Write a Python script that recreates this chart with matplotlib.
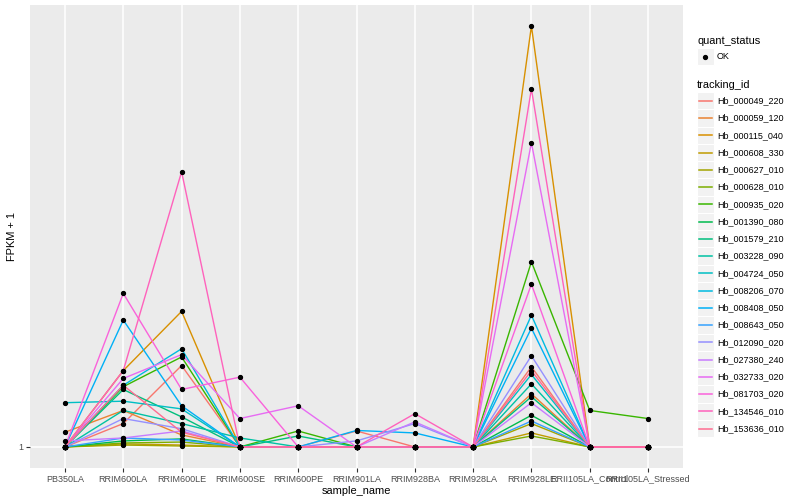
import matplotlib
matplotlib.use("Agg")
import matplotlib.pyplot as plt
from matplotlib.patches import Rectangle
import numpy as np

plt.rcParams['font.family'] = ['Liberation Sans', 'DejaVu Sans']

samples = ["PB350LA", "RRIM600LA", "RRIM600LE", "RRIM600SE", "RRIM600PE",
           "RRIM901LA", "RRIM928BA", "RRIM928LA", "RRIM928LE",
           "RRII105LA_Control", "RRII105LA_Stressed"]

tracking_ids = ["Hb_000049_220", "Hb_000059_120", "Hb_000115_040", "Hb_000608_330",
                "Hb_000627_010", "Hb_000628_010", "Hb_000935_020", "Hb_001390_080",
                "Hb_001579_210", "Hb_003228_090", "Hb_004724_050", "Hb_008206_070",
                "Hb_008408_050", "Hb_008643_050", "Hb_012090_020", "Hb_027380_240",
                "Hb_032733_020", "Hb_081703_020", "Hb_134546_010", "Hb_153636_010"]

colors = ["#F8766D", "#EA8331", "#D89000", "#C09B00", "#A3A500", "#7CAE00", "#39B600",
          "#00BB4E", "#00BF7D", "#00C1A3", "#00BFC4", "#00BAE0", "#00B0F6", "#35A2FF",
          "#9590FF", "#C77CFF", "#E76BF3", "#FA62DB", "#FF62BC", "#FF6C91"]

# FPKM + 1 values, one list per tracking_id, in sample order
fpkm1 = [
    [1, 1.13, 1.53, 1, 1, 1.087, 1, 1, 1.52, 1, 1],
    [1.08, 1.21, 1.065, 1, 1, 1, 1, 1, 1.32, 1, 1],
    [1, 1.49, 2.03, 1, 1, 1, 1, 1, 9.01, 1, 1],
    [1, 1.016, 1.010, 1, 1, 1, 1, 1, 1.076, 1, 1],
    [1, 1.010, 1.005, 1, 1, 1, 1, 1, 1.13, 1, 1],
    [1, 1.021, 1.026, 1, 1, 1, 1, 1, 1.059, 1, 1],
    [1, 1.37, 1.60, 1, 1.087, 1, 1, 1, 2.63, 1.21, 1.16],
    [1, 1.032, 1.043, 1, 1, 1, 1, 1, 1.18, 1, 1],
    [1, 1.35, 1.17, 1, 1.059, 1, 1, 1, 1.30, 1, 1],
    [1, 1.21, 1.13, 1.048, 1, 1, 1, 1, 1.39, 1, 1],
    [1.26, 1.27, 1.22, 1, 1, 1, 1, 1, 1.46, 1, 1],
    [1, 1.38, 1.67, 1, 1, 1, 1, 1, 1.99, 1, 1],
    [1, 1.94, 1.24, 1, 1, 1.09, 1.076, 1, 1.86, 1, 1],
    [1, 1.048, 1.037, 1, 1, 1, 1, 1, 1.145, 1, 1],
    [1, 1.16, 1.10, 1, 1, 1.032, 1.13, 1, 1.61, 1, 1],
    [1.032, 1.048, 1.087, 1, 1, 1, 1.14, 1, 1.26, 1, 1],
    [1, 1.43, 1.62, 1.16, 1.24, 1, 1, 1, 4.90, 1, 1],
    [1, 2.23, 1.35, 1.44, 1, 1, 1, 1, 2.34, 1, 1],
    [1, 1.49, 4.21, 1, 1, 1, 1.19, 1, 6.49, 1, 1],
    [1, 1.38, 1.08, 1, 1, 1, 1, 1, 1.49, 1, 1],
]

W, H = 800, 500
fig = plt.figure(figsize=(8, 5), dpi=100)
fig.patch.set_facecolor("white")
ax = fig.add_axes([30 / W, 32 / H, 653 / W, 463 / H])
ax.set_facecolor("#EBEBEB")

x = np.arange(len(samples))
ax.set_yscale("log")
for v in x:
    ax.axvline(v, color="white", lw=1.1, zorder=0)
ax.axhline(1, color="white", lw=1.1, zorder=0)

for vals, c in zip(fpkm1, colors):
    ax.plot(x, vals, color=c, lw=1.0, zorder=2)
for vals in fpkm1:
    ax.plot(x, vals, ls="none", marker="o", ms=2.8, color="black", zorder=3)

allv = np.log10(np.array(fpkm1))
lo, hi = allv.min(), allv.max()
pad = 0.05 * (hi - lo)
ax.set_ylim(10 ** (lo - pad), 10 ** (hi + pad))
ax.set_xlim(-0.6, len(samples) - 0.4)
ax.set_yticks([1])
ax.set_yticklabels(["1"])
ax.yaxis.set_minor_locator(matplotlib.ticker.NullLocator())
ax.set_xticks(x)
ax.set_xticklabels(samples)
ax.tick_params(axis="both", colors="#333333", length=2.8, width=0.8,
               labelsize=6.5, labelcolor="#4D4D4D", pad=2)
for s in ax.spines.values():
    s.set_visible(False)
ax.set_xlabel("sample_name", fontsize=7.9, labelpad=2)
ax.set_ylabel("FPKM + 1", fontsize=7.9, labelpad=1)

# legend
lax = fig.add_axes([0, 0, 1, 1], zorder=5)
lax.set_xlim(0, W)
lax.set_ylim(H, 0)
lax.axis("off")
lax.text(697, 40.5, "quant_status", fontsize=7.9, va="center", ha="left")
lax.add_patch(Rectangle((697, 48), 16.5, 17, fc="#F2F2F2", ec="white", lw=0.8))
lax.plot([705.2], [56.5], marker="o", ms=2.8, color="black")
lax.text(717, 56.7, "OK", fontsize=6.5, va="center", ha="left")
lax.text(697, 84.5, "tracking_id", fontsize=7.9, va="center", ha="left")
step = 17.25
for i, (tid, c) in enumerate(zip(tracking_ids, colors)):
    yc = 100.8 + i * step
    lax.add_patch(Rectangle((697, yc - step / 2), 16.5, step, fc="#F2F2F2", ec="white", lw=0.8))
    lax.plot([698.5, 711.5], [yc, yc], color=c, lw=1.1)
    lax.text(717, yc, tid, fontsize=6.5, va="center", ha="left")

fig.savefig("out.png", dpi=100)
